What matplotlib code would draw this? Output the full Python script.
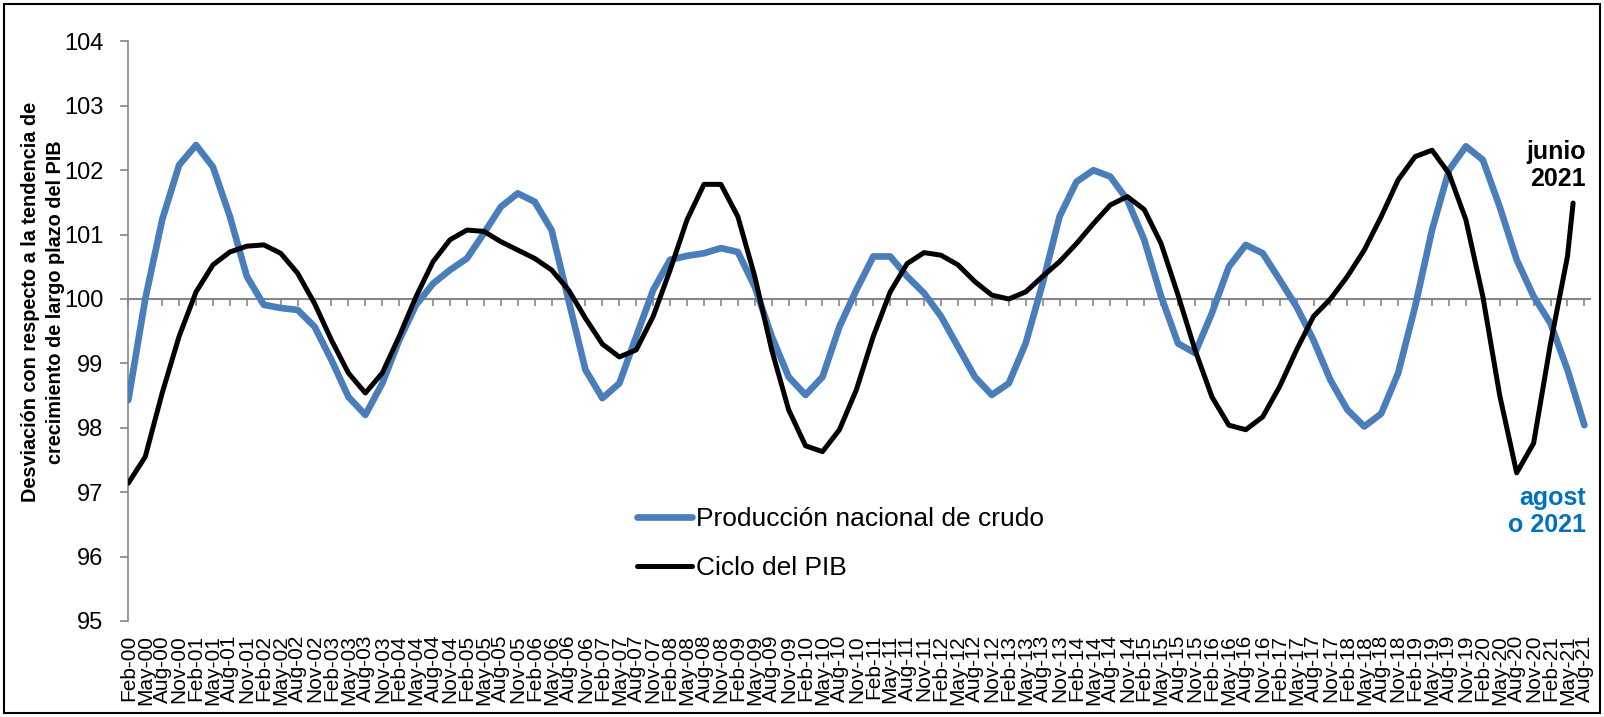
import numpy as np
import matplotlib
matplotlib.use("Agg")
import matplotlib.pyplot as plt
from matplotlib.patches import Rectangle

plt.rcParams['font.family'] = ['Liberation Sans', 'DejaVu Sans']

# quarterly category labels Feb-00 ... Aug-21
quarter_names = ['Feb', 'May', 'Aug', 'Nov']
quarter_labels = ['%s-%02d' % (m, y) for y in range(0, 22) for m in quarter_names][:87]

# values read at each quarterly tick (month offset 0, 3, 6, ...)
crudo = [98.43, 100.0, 101.23, 102.08, 102.39, 102.05, 101.28, 100.35, 99.91, 99.86,
         99.83, 99.57, 99.05, 98.48, 98.2, 98.69, 99.36, 99.91, 100.24, 100.45,
         100.63, 101.02, 101.43, 101.64, 101.51, 101.07, 99.98, 98.9, 98.46, 98.69,
         99.42, 100.14, 100.61, 100.67, 100.71, 100.79, 100.73, 100.19, 99.42, 98.79,
         98.51, 98.79, 99.57, 100.14, 100.66, 100.66, 100.35, 100.09, 99.73, 99.26,
         98.79, 98.51, 98.69, 99.31, 100.24, 101.28, 101.82, 102.0, 101.9, 101.54,
         100.92, 100.04, 99.31, 99.16, 99.78, 100.5, 100.84, 100.71, 100.3, 99.88,
         99.36, 98.74, 98.28, 98.02, 98.22, 98.85, 99.88, 101.07, 102.0, 102.37,
         102.16, 101.43, 100.61, 100.04, 99.62, 98.9, 98.04]

ciclo_pib = [97.14, 97.55, 98.54, 99.42, 100.11, 100.53, 100.73, 100.82, 100.84, 100.71,
             100.4, 99.93, 99.36, 98.85, 98.54, 98.85, 99.42, 100.04, 100.58, 100.92,
             101.07, 101.05, 100.89, 100.76, 100.63, 100.45, 100.14, 99.7, 99.3, 99.1,
             99.21, 99.73, 100.45, 101.23, 101.78, 101.78, 101.28, 100.35, 99.21, 98.28,
             97.72, 97.63, 97.97, 98.59, 99.42, 100.11, 100.55, 100.72, 100.68, 100.53,
             100.27, 100.06, 100.0, 100.11, 100.35, 100.58, 100.86, 101.17, 101.46, 101.59,
             101.39, 100.86, 100.06, 99.21, 98.48, 98.04, 97.97, 98.17, 98.64, 99.21,
             99.73, 100.0, 100.35, 100.76, 101.28, 101.85, 102.21, 102.31, 101.95, 101.23,
             100.04, 98.5, 97.3, 97.76, 99.31, 100.66]
ciclo_pib_jun21 = 101.49  # last observation, junio 2021

blue = '#4A7EBB'
grey = '#868686'

x_crudo = np.arange(len(crudo)) * 3
x_pib = np.append(np.arange(len(ciclo_pib)) * 3, 256)  # Jun-21 = month 256
y_pib = np.append(ciclo_pib, ciclo_pib_jun21)

fig = plt.figure(figsize=(16.04, 7.17), dpi=100)
ax = fig.add_axes([0.08, 0.1339, 0.9113, 0.8084])

ax.plot(x_crudo, crudo, color=blue, lw=4.8, solid_capstyle='round',
        solid_joinstyle='round', label='Producción nacional de crudo', zorder=3)
ax.plot(x_pib, y_pib, color='black', lw=3.6, solid_capstyle='round',
        solid_joinstyle='round', label='Ciclo del PIB', zorder=4)

ax.set_xlim(0, 259)
ax.set_ylim(95, 104)
ax.set_yticks(range(95, 105))
ax.tick_params(axis='y', direction='out', length=6, width=1.2, color=grey,
               labelsize=17, pad=12)

# category axis crossing at 100
ax.spines['bottom'].set_position(('data', 100))
ax.spines['bottom'].set_color(grey)
ax.spines['bottom'].set_linewidth(1.5)
ax.spines['bottom'].set_zorder(2)
ax.spines['left'].set_color(grey)
ax.spines['left'].set_linewidth(1.2)
ax.spines['top'].set_visible(False)
ax.spines['right'].set_visible(False)
ax.set_xticks(x_crudo)
ax.tick_params(axis='x', direction='out', length=5, width=1.2, color=grey,
               labelbottom=False)

# labels sit at the bottom of the plot area
sec = ax.secondary_xaxis(0)
sec.set_xticks(x_crudo)
sec.set_xticklabels(quarter_labels, rotation=90, fontsize=15)
sec.tick_params(axis='x', length=0, pad=10)
sec.spines['bottom'].set_visible(False)

fig.text(43 / 1604, 1 - 302 / 717,
         'Desviación con respecto a la tendencia de\ncrecimiento de largo plazo del PIB',
         rotation=90, ha='center', va='center', fontsize=14.3, fontweight='bold',
         multialignment='center', linespacing=1.4)

leg = ax.legend(loc='upper left', bbox_to_anchor=(637 / 1604, 1 - 507 / 717),
                bbox_transform=fig.transFigure, frameon=False, fontsize=19,
                handlelength=2.1, handletextpad=0.15, labelspacing=0.95,
                borderpad=0, borderaxespad=0)

fig.text(1586 / 1604, 1 - 140 / 717, 'junio\n2021', ha='right', va='top',
         fontsize=18, fontweight='bold', color='black', linespacing=1.15)
fig.text(1586 / 1604, 1 - 486 / 717, 'agost\no 2021', ha='right', va='top',
         fontsize=18, fontweight='bold', color='#0070C0', linespacing=1.15)

fig.patches.append(Rectangle((4 / 1604, 4 / 717), 1 - 8 / 1604, 1 - 8 / 717,
                             transform=fig.transFigure, fill=False,
                             edgecolor='black', lw=1.5))

fig.savefig('out.png', dpi=100)
